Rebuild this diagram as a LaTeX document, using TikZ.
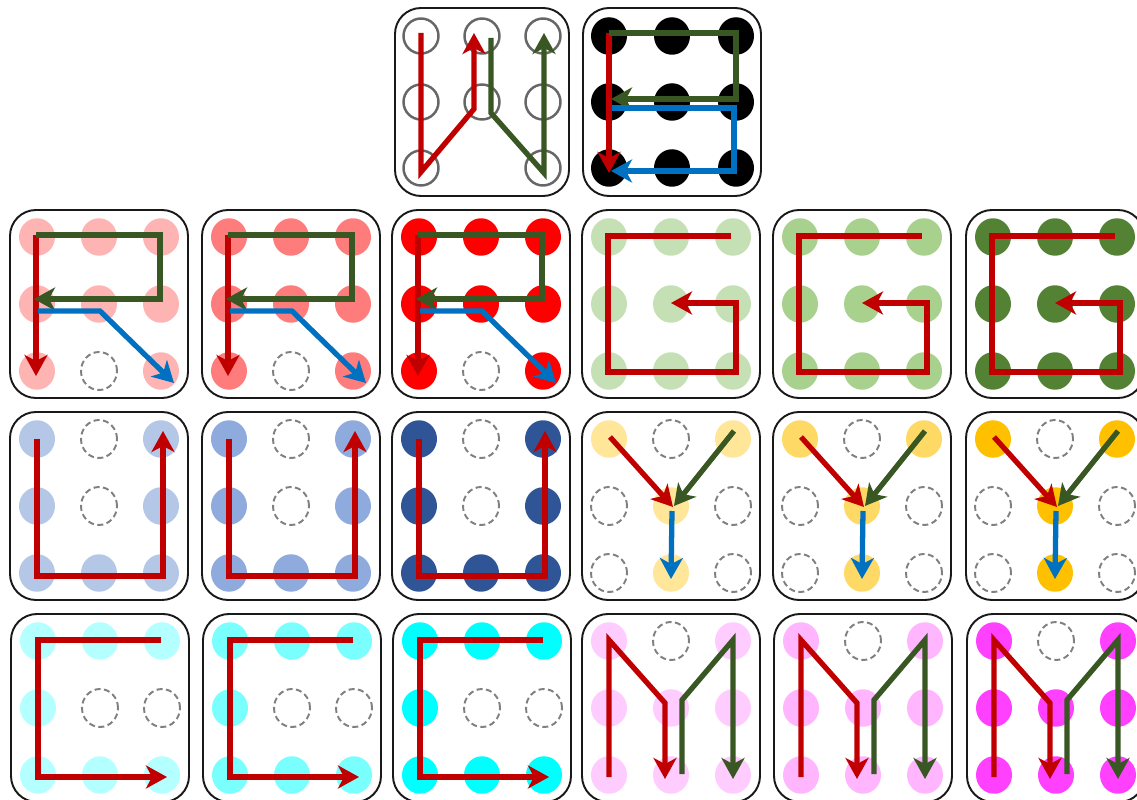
\documentclass[tikz,border=0pt]{standalone}
\usetikzlibrary{arrows.meta}
\definecolor{cred}{HTML}{C00000}
\definecolor{cgreen}{HTML}{385723}
\definecolor{cblue}{HTML}{0070C0}
\definecolor{Fa}{HTML}{FFB4B4}\definecolor{Fb}{HTML}{FF7C7C}\definecolor{Fc}{HTML}{FF0000}
\definecolor{Ga}{HTML}{C5E0B4}\definecolor{Gb}{HTML}{A9D18E}\definecolor{Gc}{HTML}{548235}
\definecolor{Ua}{HTML}{B4C7E7}\definecolor{Ub}{HTML}{8FAADC}\definecolor{Uc}{HTML}{2F5597}
\definecolor{Ya}{HTML}{FFE699}\definecolor{Yb}{HTML}{FFD966}\definecolor{Yc}{HTML}{FFC000}
\definecolor{Ca}{HTML}{B4FFFF}\definecolor{Cb}{HTML}{7AFFFF}\definecolor{Cc}{HTML}{00FFFF}
\definecolor{Ma}{HTML}{FFCCFF}\definecolor{Mb}{HTML}{FFB6FF}\definecolor{Mc}{HTML}{FF40FF}
\tikzset{
  pbox/.style={draw=black!90, line width=1.1pt, rounded corners=0.52cm, fill=white},
  dcirc/.style={draw=black!50, line width=1.1pt, dash pattern=on 3.4pt off 2pt},
  ocirc/.style={draw=black!60, line width=1.4pt},
  rl/.style={draw=cred, line width=3pt},
  gl/.style={draw=cgreen, line width=3pt},
  bl/.style={draw=cblue, line width=3pt},
  arr/.style={-{Stealth[length=4.2mm,width=4.6mm,inset=1.2mm]}},
}
\newcommand\patdots[2]{\foreach \p in {#2} \fill[#1] \p ellipse[x radius=0.36cm,y radius=0.375cm];}
\newcommand\patdash[1]{\foreach \p in {#1} \draw[dcirc] \p ellipse[x radius=0.36cm,y radius=0.38cm];}
\newcommand\patbox{\draw[pbox] (-89,-94) rectangle (89,94);}
% F glyph
\newcommand\glyphF[3]{\begin{scope}[shift={(#1,#2)}]
 \patbox
 \patdots{#3}{(-62,-67),(0,-67),(62,-67),(-62,0),(0,0),(62,0),(-62,67),(62,67)}
 \patdash{(0,67)}
 \draw[rl,arr] (-63,-69) -- (-63,72);
 \draw[gl,arr] (-63,-69) -- (61,-69) -- (61,-5) -- (-65,-5);
 \draw[bl,arr] (-61,7) -- (1,7) -- (75,79);
\end{scope}}
% G glyph
\newcommand\glyphG[3]{\begin{scope}[shift={(#1,#2)}]
 \patbox
 \patdots{#3}{(-62,-67),(0,-67),(62,-67),(-62,0),(0,0),(62,0),(-62,67),(0,67),(62,67)}
 \draw[rl,arr] (60,-68) -- (-63,-68) -- (-63,68) -- (65,68) -- (65,-1) -- (0,-1);
\end{scope}}
% U glyph
\newcommand\glyphU[3]{\begin{scope}[shift={(#1,#2)}]
 \patbox
 \patdots{#3}{(-62,-67),(62,-67),(-62,0),(62,0),(-62,67),(0,67),(62,67)}
 \patdash{(0,-67),(0,0)}
 \draw[rl,arr] (-62,-67) -- (-62,70) -- (64,70) -- (64,-75);
\end{scope}}
% Y glyph
\newcommand\glyphY[3]{\begin{scope}[shift={(#1,#2)}]
 \patbox
 \patdots{#3}{(-62,-67),(62,-67),(0,0),(0,67)}
 \patdash{(0,-67),(-62,0),(62,0),(-62,67),(62,67)}
 \draw[rl,arr] (-61,-69) -- (2,1);
 \draw[gl,arr] (63,-75) -- (3,0);
 \draw[bl,arr] (1,5) -- (0,73);
\end{scope}}
% C glyph
\newcommand\glyphC[3]{\begin{scope}[shift={(#1,#2)}]
 \patbox
 \patdots{#3}{(-62,-67),(0,-67),(62,-67),(-62,0),(-62,67),(0,67),(62,67)}
 \patdash{(0,0),(62,0)}
 \draw[rl,arr] (61,-68) -- (-62,-68) -- (-62,69) -- (67,69);
\end{scope}}
% M glyph
\newcommand\glyphM[3]{\begin{scope}[shift={(#1,#2)}]
 \patbox
 \patdots{#3}{(-62,-67),(62,-67),(-62,0),(0,0),(62,0),(-62,67),(0,67),(62,67)}
 \patdash{(0,-67)}
 \draw[rl,arr] (-62,69) -- (-62,-68) -- (-6,-5) -- (-6,71);
 \draw[gl,arr] (11,66) -- (11,-8) -- (62,-68) -- (62,71);
\end{scope}}
\begin{document}
\begin{tikzpicture}[x=0.02cm,y=-0.02cm]
\useasboundingbox (0,0) rectangle (1137,800);
% W box
\begin{scope}[shift={(482,102)}]
 \draw[pbox] (-87,-94) rectangle (87,94);
 \foreach \p in {(-61,-66),(0,-66),(61,-66),(-61,0),(0,0),(61,0),(-61,66),(61,66)}
   \draw[ocirc] \p circle[radius=0.35cm];
 \draw[rl,arr] (-61,-69) -- (-61,70) -- (-8,7) -- (-8,-69);
 \draw[gl,arr] (9,-64) -- (9,11) -- (62,71) -- (62,-69);
\end{scope}
% E box
\begin{scope}[shift={(672,102)}]
 \draw[pbox] (-89,-94) rectangle (89,94);
 \patdots{black}{(-63,-66),(0,-66),(64,-66),(-63,0),(0,0),(64,0),(-63,66),(0,66),(64,66)}
 \draw[rl,arr] (-63,-69) -- (-63,71);
 \draw[gl,arr] (-63,-69) -- (64,-69) -- (64,-3) -- (-61,-3);
 \draw[bl,arr] (-60,6) -- (62,6) -- (62,69) -- (-61,69);
\end{scope}
% row 1
\glyphF{99}{304}{Fa}
\glyphF{291}{304}{Fb}
\glyphF{481}{304}{Fc}
\glyphG{671}{304}{Ga}
\glyphG{862}{304}{Gb}
\glyphG{1055}{304}{Gc}
% row 2
\glyphU{99}{506}{Ua}
\glyphU{291}{506}{Ub}
\glyphU{481}{506}{Uc}
\glyphY{671}{506}{Ya}
\glyphY{862}{506}{Yb}
\glyphY{1055}{506}{Yc}
% row 3
\glyphC{100}{708}{Ca}
\glyphC{292}{708}{Cb}
\glyphC{482}{708}{Cc}
\glyphM{671}{708}{Ma}
\glyphM{863}{708}{Mb}
\glyphM{1056}{708}{Mc}
\end{tikzpicture}
\end{document}
